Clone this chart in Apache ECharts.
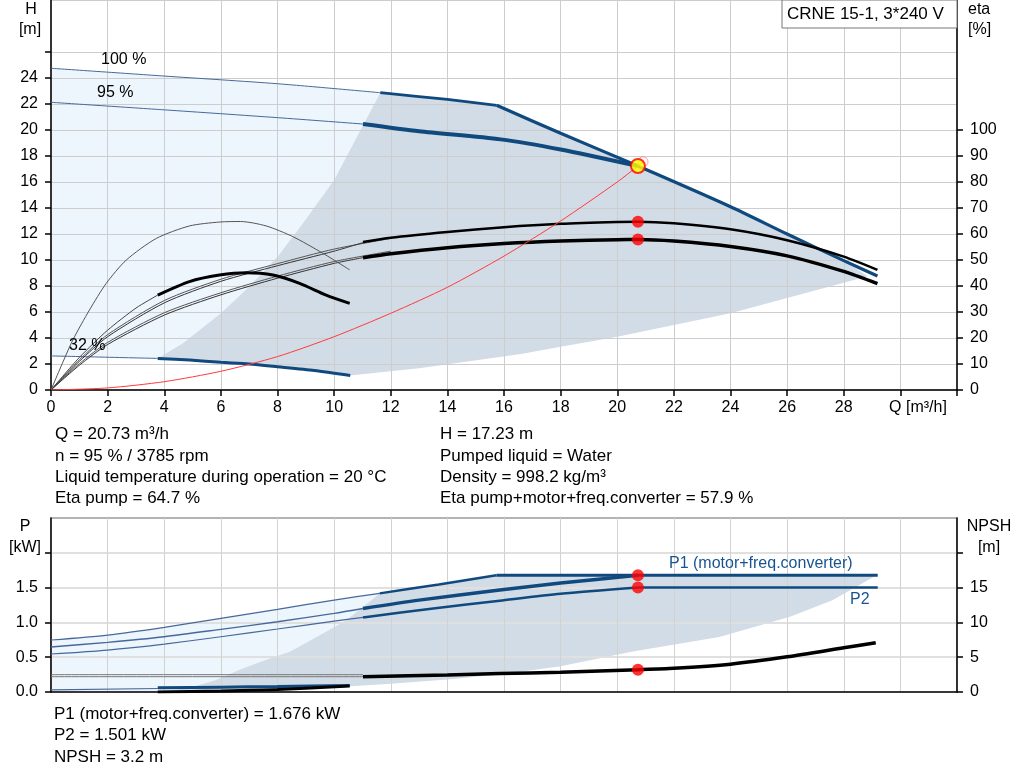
<!DOCTYPE html>
<html><head><meta charset="utf-8">
<script src="https://cdn.jsdelivr.net/npm/echarts@6/dist/echarts.min.js"></script>
<style>html,body{margin:0;padding:0;background:#fff}#c{width:1024px;height:781px}</style>
</head><body><div id="c"></div>
<script>
// ---------- tick labels ----------
const qLabels = [0,2,4,6,8,10,12,14,16,18,20,22,24,26,28];
const hLabels = [0,2,4,6,8,10,12,14,16,18,20,22,24];
const hTickMarks = [0,2,4,6,8,10,12,14,16,18,20,22,24,26];
const etaLabels = [0,10,20,30,40,50,60,70,80,90,100];
const pLabels = [0,0.5,1,1.5];
const pTickMarks = [0,0.5,1,1.5,2];
const npshLabels = [0,5,10,15];
const npshTickMarks = [0,5,10,15,20];

// ---------- head curves [Q m3/h, H m] ----------
const h100Thin  = [[0,24.75],[4,24.15],[8,23.56],[11.63,22.87]];
const h100Thick = [[11.63,22.87],[14,22.35],[15.74,21.9]];
const h100Limit = [[15.74,21.9],[18,19.75],[20.73,17.23],[24,14.1],[26,12.0],[28,9.95],[29.19,8.77]];
const h95Thin   = [[0,22.13],[4,21.55],[8,20.95],[11.02,20.46]];
const h95Thick  = [[11.02,20.46],[13,19.9],[15.88,19.28],[18,18.5],[20.73,17.23]];
const h32Thin   = [[0,2.62],[3.77,2.43]];
const h32Thick  = [[3.77,2.43],[4.9,2.3],[6,2.13],[7,2.0],[8,1.79],[9.3,1.5],[10.57,1.12]];
const darkLeftTop  = [[3.77,2.43],[4.66,3.59],[6,5.9],[7,7.95],[8,10.25],[8.9,12.82],[10,16.15],[10.78,19.36],[11.63,22.87]];
const darkLowerTop = [[10.57,1.12],[13,1.67],[16.6,2.77],[18,3.33],[20,4.1],[22,5.0],[24,5.9],[26,7.08],[28.85,8.75]];
const systemCurve  = [[0,0],[2,0.16],[4,0.64],[6,1.44],[8,2.57],[10,4.1],[12,5.9],[14,7.9],[16,10.3],[18,13.0],[20,16.0],[20.73,17.23],[20.91,17.56]];
const dutyPoint    = [[20.73,17.23]];
const dutyHalo     = [[20.91,17.56]];

// ---------- efficiency curves [Q, eta %] ----------
const etaPump95Thin   = [[0,0],[1,11],[2,20.5],[4,33.5],[6,41.8],[8,47.8],[10,53.4],[11.02,56.7]];
const etaPump100Thin  = [[0,0],[1,11.6],[2,21.3],[4,34.4],[6,42.6],[8,48.6],[10,54.2],[12,58.3]];
const etaPump95Thick  = [[11.02,56.9],[12,58.6],[14,60.8],[16,62.6],[18,63.9],[20,64.6],[20.73,64.7],[22,64.1],[24,61.8],[26,57.6],[28,51.3],[29.19,46.2]];
const etaTot95Thin    = [[0,0],[1,9.5],[2,17.5],[4,28.8],[6,36.6],[8,43],[10,48.7],[11.02,50.9]];
const etaTot100Thin   = [[0,0],[1,10.1],[2,18.3],[4,29.7],[6,37.4],[8,43.8],[10,49.4],[12,53.4]];
const etaTot95Thick   = [[11.02,50.9],[12,52.4],[14,54.7],[16,56.3],[18,57.3],[20,57.8],[20.73,57.9],[22,57.3],[24,55.2],[26,51.6],[28,45.6],[29.19,40.9]];
const etaPump32       = [[0,0],[0.3,7.7],[0.77,19.2],[1.36,30.8],[1.95,41],[2.66,50],[3.72,58.3],[4.89,63.1],[5.95,64.6],[6.7,64.8],[7.6,63.1],[8.54,59],[9.6,52.6],[10.55,46.2]];
const etaTot32Thin    = [[0,0],[1,12.5],[2,23],[3,31.5],[3.77,36.5]];
const etaTot32Thick   = [[3.77,36.5],[4.89,41.7],[5.95,44.2],[6.9,45.1],[7.84,44.2],[8.78,41],[9.72,36.5],[10.55,33.3]];
const etaDuty         = [[20.73,64.7],[20.73,57.9]];

// ---------- power curves [Q, P kW] ----------
const p1_100Thin  = [[0,0.747],[2,0.818],[4,0.929],[6,1.058],[8,1.187],[10,1.321],[11.61,1.417]];
const p1_100Thick = [[11.61,1.417],[13.7,1.545],[15.73,1.676]];
const p1Flat      = [[15.73,1.676],[29.2,1.676]];
const p1_95Thin   = [[0,0.646],[2,0.713],[4,0.794],[6,0.9],[8,1.01],[10,1.13],[11.02,1.2]];
const p1_95Thick  = [[11.02,1.2],[13,1.32],[15.85,1.464],[18,1.565],[20.73,1.676]];
const p2_95Thin   = [[0,0.546],[2,0.603],[4,0.689],[6,0.794],[8,0.905],[10,1.019],[11.02,1.072]];
const p2_95Thick  = [[11.02,1.072],[13.5,1.2],[15.85,1.311],[18,1.41],[20.73,1.501]];
const p2Flat      = [[20.73,1.501],[29.2,1.501]];
const p32Thin     = [[0,0.03],[3.77,0.05]];
const p32Thick    = [[3.77,0.06],[6,0.07],[8,0.08],[10.55,0.095]];
const darkLeftBot  = [[3.77,0],[4.9,0.06],[5.8,0.17],[6.66,0.32],[7.5,0.45],[8.43,0.58],[9.6,0.84],[10.43,1.03],[11.61,1.417]];
const darkLowerBot = [[3.77,0],[6,0.02],[8,0.04],[10,0.07],[12,0.12],[14,0.18],[16,0.26],[18,0.37],[20.5,0.58],[23.6,0.79],[26.1,1.08],[27.6,1.32],[29.13,1.67]];
const pDuty       = [[20.73,1.676],[20.73,1.501]];

// ---------- NPSH curves [Q, m] ----------
const npshGrayA   = [[0,2.49],[11.02,2.49]];
const npshGrayB   = [[0,2.2],[11.02,2.2]];
const npshThick   = [[11.02,2.2],[14,2.45],[15.85,2.65],[18,2.85],[20.73,3.2],[22,3.4],[24,4.0],[26,5.05],[28,6.35],[29.13,7.08]];
const npsh32      = [[3.77,0],[6,0.15],[8,0.35],[10.55,0.85]];
const npshDuty    = [[20.73,3.2]];

// ---------- styles ----------
const FONT = 'Liberation Sans, Arial, sans-serif';
const BLUE = '#10497e';
const THINBLUE = '#47699a';
const LIGHT = '#edf5fd';
const DARK = '#d1dce7';

function poly(points, color, xi, yi) {
  return {
    type: 'custom', xAxisIndex: xi, yAxisIndex: yi, silent: true, z: 1,
    data: [points[0]],
    renderItem: function (params, api) {
      return { type: 'polygon', shape: { points: points.map(function (p) { return api.coord(p); }) },
               style: { fill: color } };
    }
  };
}
function line(data, color, width, xi, yi, z) {
  return { type: 'line', data: data, xAxisIndex: xi, yAxisIndex: yi, symbol: 'none', showSymbol: false,
           smooth: 0.25, silent: true, z: z || 3,
           lineStyle: { color: color, width: width } };
}
function dots(data, xi, yi, size, fill, border, bw) {
  return { type: 'scatter', data: data, xAxisIndex: xi, yAxisIndex: yi, symbol: 'circle', symbolSize: size,
           silent: true, z: 6, itemStyle: { color: fill, borderColor: border, borderWidth: bw || 0 } };
}
const rev = a => a.slice().reverse();

const topLight = [].concat(h100Thin, rev(darkLeftTop), rev(h32Thin));
const topDark  = [].concat(darkLeftTop, h100Thick, h100Limit.slice(0, -1), rev(darkLowerTop), rev(h32Thick));
const botLight = [].concat(p1_100Thin, rev(darkLeftBot), [[0,0]]);
const botDark  = [].concat(darkLeftBot, p1_100Thick, p1Flat.slice(1), rev(darkLowerBot));

const axisLineStyle = { color: '#000', width: 1.5 };
function yAx(grid, pos, min, max, interval, labels, ticks, fmt, splitColor, splitWidth) {
  return {
    type: 'value', gridIndex: grid, position: pos, min: min, max: max, interval: interval, z: 2,
    axisLine: { show: true, onZero: false, lineStyle: axisLineStyle },
    axisTick: { show: true, length: 6, customValues: ticks, lineStyle: axisLineStyle },
    axisLabel: { customValues: labels, color: '#000', fontSize: 16, fontFamily: FONT, margin: 13, formatter: fmt },
    splitLine: { show: !!splitColor, lineStyle: { color: splitColor || '#ccc', width: splitWidth || 1 } }
  };
}

const chart = echarts.init(document.getElementById('c'), null, { renderer: 'canvas' });
chart.setOption({
  animation: false,
  backgroundColor: '#fff',
  grid: [
    { left: 51, top: 0, width: 906, height: 390, show: true, borderColor: '#9a9a9a', borderWidth: 1, backgroundColor: 'transparent' },
    { left: 51, top: 518, width: 906, height: 174, show: true, borderColor: '#9a9a9a', borderWidth: 1.5, backgroundColor: 'transparent' }
  ],
  xAxis: [
    { type: 'value', gridIndex: 0, min: 0, max: 32, interval: 2, z: 2,
      axisLine: { show: true, onZero: false, lineStyle: axisLineStyle },
      axisTick: { show: true, length: 6, lineStyle: axisLineStyle },
      axisLabel: { customValues: qLabels, color: '#000', fontSize: 16, fontFamily: FONT, margin: 10 },
      splitLine: { show: true, lineStyle: { color: '#cdcdcd', width: 1 } } },
    { type: 'value', gridIndex: 1, min: 0, max: 32, interval: 2, z: 2,
      axisLine: { show: true, onZero: false, lineStyle: axisLineStyle },
      axisTick: { show: false }, axisLabel: { show: false },
      splitLine: { show: true, lineStyle: { color: '#d2d2d2', width: 1 } } }
  ],
  yAxis: [
    yAx(0, 'left', 0, 30, 2, hLabels, hTickMarks, null, '#cdcdcd', 1),
    yAx(0, 'right', 0, 150, 10, etaLabels, etaLabels, null, null),
    yAx(1, 'left', 0, 2.5, 0.5, pLabels, pTickMarks, function (v) { return v.toFixed(1); }, '#e0e0e0', 2),
    yAx(1, 'right', 0, 25, 5, npshLabels, npshTickMarks, null, null)
  ],
  series: [
    poly(topLight, LIGHT, 0, 0),
    poly(topDark, DARK, 0, 0),
    line(h100Thin, THINBLUE, 1, 0, 0),
    line(h100Thick, BLUE, 2.7, 0, 0),
    line(h100Limit, BLUE, 3.2, 0, 0),
    line(h95Thin, THINBLUE, 1, 0, 0),
    line(h95Thick, BLUE, 4, 0, 0),
    line(h32Thin, THINBLUE, 1, 0, 0),
    line(h32Thick, BLUE, 3, 0, 0),
    line(systemCurve, '#ff3b3b', 1, 0, 0, 4),
    line(etaPump100Thin, '#555', 1, 0, 1),
    line(etaPump95Thin, '#333', 1, 0, 1),
    line(etaTot100Thin, '#555', 1, 0, 1),
    line(etaTot95Thin, '#333', 1, 0, 1),
    line(etaPump95Thick, '#000', 2.5, 0, 1),
    line(etaTot95Thick, '#000', 3.5, 0, 1),
    line(etaPump32, '#555', 1, 0, 1),
    line(etaTot32Thin, '#444', 1, 0, 1),
    line(etaTot32Thick, '#000', 3, 0, 1),
    dots(etaDuty, 0, 1, 12, '#ff0000'),
    dots(dutyHalo, 0, 0, 10, 'rgba(255,255,255,0)', '#ff8080', 1),
    dots(dutyPoint, 0, 0, 14, '#ffff00', '#ff0000', 2),
    poly(botLight, LIGHT, 1, 2),
    poly(botDark, DARK, 1, 2),
    line(p1_100Thin, THINBLUE, 1.2, 1, 2),
    line(p1_100Thick, BLUE, 2.5, 1, 2),
    line(p1Flat, BLUE, 3, 1, 2),
    line(p1_95Thin, THINBLUE, 1.4, 1, 2),
    line(p1_95Thick, BLUE, 3.5, 1, 2),
    line(p2_95Thin, THINBLUE, 1.2, 1, 2),
    line(p2_95Thick, BLUE, 2.5, 1, 2),
    line(p2Flat, BLUE, 2.5, 1, 2),
    line(p32Thin, THINBLUE, 1.2, 1, 2),
    line(p32Thick, BLUE, 3, 1, 2),
    line(npshGrayA, '#777', 1, 1, 3),
    line(npshGrayB, '#777', 1, 1, 3),
    line(npshThick, '#000', 3.5, 1, 3),
    line(npsh32, '#000', 3, 1, 3),
    dots(pDuty, 1, 2, 12, '#ff0000'),
    dots(npshDuty, 1, 3, 12, '#ff0000')
  ],
  graphic: [
    { type: 'rect', shape: { x: 782, y: 0, width: 175, height: 28 }, style: { fill: '#fff', stroke: '#777', lineWidth: 1 }, z: 10 },
    { type: 'text', x: 787, y: 14, z: 11, style: { text: 'CRNE 15-1, 3*240 V', font: '17px ' + FONT, fill: '#000', textAlign: 'left', textVerticalAlign: 'middle' } },
    { type: 'text', x: 31, y: 10, style: { text: 'H', font: '16px ' + FONT, fill: '#000', textAlign: 'center', textVerticalAlign: 'middle' } },
    { type: 'text', x: 30, y: 30, style: { text: '[m]', font: '16px ' + FONT, fill: '#000', textAlign: 'center', textVerticalAlign: 'middle' } },
    { type: 'text', x: 968, y: 10, style: { text: 'eta', font: '16px ' + FONT, fill: '#000', textAlign: 'left', textVerticalAlign: 'middle' } },
    { type: 'text', x: 968, y: 30, style: { text: '[%]', font: '16px ' + FONT, fill: '#000', textAlign: 'left', textVerticalAlign: 'middle' } },
    { type: 'text', x: 918, y: 408, style: { text: 'Q [m³/h]', font: '16px ' + FONT, fill: '#000', textAlign: 'center', textVerticalAlign: 'middle' } },
    { type: 'text', x: 101, y: 60, z: 8, style: { text: '100 %', font: '16px ' + FONT, fill: '#000', textAlign: 'left', textVerticalAlign: 'middle' } },
    { type: 'text', x: 97, y: 93, z: 8, style: { text: '95 %', font: '16px ' + FONT, fill: '#000', textAlign: 'left', textVerticalAlign: 'middle' } },
    { type: 'text', x: 69, y: 346, z: 8, style: { text: '32 %', font: '16px ' + FONT, fill: '#000', textAlign: 'left', textVerticalAlign: 'middle' } },
    { type: 'text', x: 55, y: 434, style: { text: 'Q = 20.73 m³/h', font: '17px ' + FONT, fill: '#000', textAlign: 'left', textVerticalAlign: 'middle' } },
    { type: 'text', x: 55, y: 456, style: { text: 'n = 95 % / 3785 rpm', font: '17px ' + FONT, fill: '#000', textAlign: 'left', textVerticalAlign: 'middle' } },
    { type: 'text', x: 55, y: 477, style: { text: 'Liquid temperature during operation = 20 °C', font: '17px ' + FONT, fill: '#000', textAlign: 'left', textVerticalAlign: 'middle' } },
    { type: 'text', x: 55, y: 498, style: { text: 'Eta pump = 64.7 %', font: '17px ' + FONT, fill: '#000', textAlign: 'left', textVerticalAlign: 'middle' } },
    { type: 'text', x: 440, y: 434, style: { text: 'H = 17.23 m', font: '17px ' + FONT, fill: '#000', textAlign: 'left', textVerticalAlign: 'middle' } },
    { type: 'text', x: 440, y: 456, style: { text: 'Pumped liquid = Water', font: '17px ' + FONT, fill: '#000', textAlign: 'left', textVerticalAlign: 'middle' } },
    { type: 'text', x: 440, y: 477, style: { text: 'Density = 998.2 kg/m³', font: '17px ' + FONT, fill: '#000', textAlign: 'left', textVerticalAlign: 'middle' } },
    { type: 'text', x: 440, y: 498, style: { text: 'Eta pump+motor+freq.converter = 57.9 %', font: '17px ' + FONT, fill: '#000', textAlign: 'left', textVerticalAlign: 'middle' } },
    { type: 'text', x: 25, y: 527, style: { text: 'P', font: '16px ' + FONT, fill: '#000', textAlign: 'center', textVerticalAlign: 'middle' } },
    { type: 'text', x: 25, y: 548, style: { text: '[kW]', font: '16px ' + FONT, fill: '#000', textAlign: 'center', textVerticalAlign: 'middle' } },
    { type: 'text', x: 989, y: 527, style: { text: 'NPSH', font: '16px ' + FONT, fill: '#000', textAlign: 'center', textVerticalAlign: 'middle' } },
    { type: 'text', x: 989, y: 548, style: { text: '[m]', font: '16px ' + FONT, fill: '#000', textAlign: 'center', textVerticalAlign: 'middle' } },
    { type: 'text', x: 669, y: 564, z: 8, style: { text: 'P1 (motor+freq.converter)', font: '16px ' + FONT, fill: '#1a5490', textAlign: 'left', textVerticalAlign: 'middle' } },
    { type: 'text', x: 850, y: 600, z: 8, style: { text: 'P2', font: '16px ' + FONT, fill: '#1a5490', textAlign: 'left', textVerticalAlign: 'middle' } },
    { type: 'text', x: 54, y: 714, style: { text: 'P1 (motor+freq.converter) = 1.676 kW', font: '17px ' + FONT, fill: '#000', textAlign: 'left', textVerticalAlign: 'middle' } },
    { type: 'text', x: 54, y: 735, style: { text: 'P2 = 1.501 kW', font: '17px ' + FONT, fill: '#000', textAlign: 'left', textVerticalAlign: 'middle' } },
    { type: 'text', x: 54, y: 757, style: { text: 'NPSH = 3.2 m', font: '17px ' + FONT, fill: '#000', textAlign: 'left', textVerticalAlign: 'middle' } }
  ]
});
</script></body></html>
